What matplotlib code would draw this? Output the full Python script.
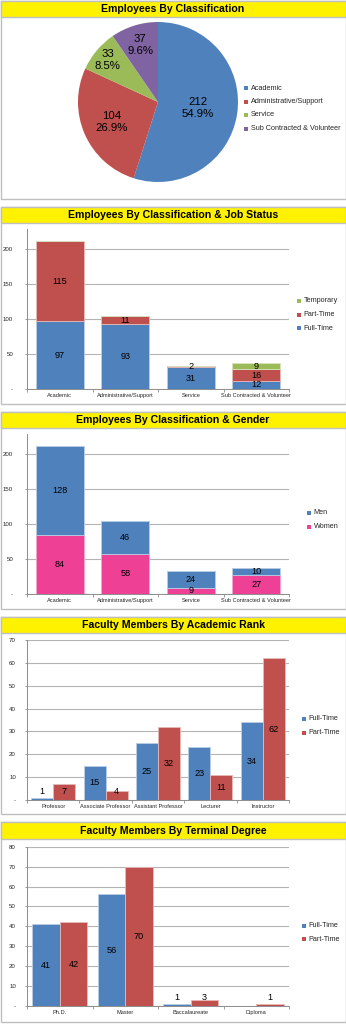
import matplotlib
matplotlib.use('Agg')
import matplotlib.pyplot as plt
import matplotlib.patches as patches
import numpy as np

plt.rcParams['font.family'] = ['Liberation Sans', 'DejaVu Sans']

# ---[DATA]---
class_names = ['Academic', 'Administrative/Support', 'Service', 'Sub Contracted & Volunteer']
class_counts = [212, 104, 33, 37]

job_full = [97, 93, 31, 12]
job_part = [115, 11, 2, 16]
job_temp = [0, 0, 0, 9]

gender_women = [84, 58, 9, 27]
gender_men = [128, 46, 24, 10]

rank_names = ['Professor', 'Associate Professor', 'Assistant Professor', 'Lecturer', 'Instructor']
rank_full = [1, 15, 25, 23, 34]
rank_part = [7, 4, 32, 11, 62]

degree_names = ['Ph.D.', 'Master', 'Baccalaureate', 'Diploma']
degree_full = [41, 56, 1, 0]
degree_part = [42, 70, 3, 1]
# ------------

BLUE = '#4f81bd'
RED = '#c0504d'
GREEN = '#9bbb59'
PURPLE = '#8064a2'
PINK = '#ee4196'
EDGE = {BLUE: '#b9cde5', RED: '#e6b9b8', GREEN: '#d7e4bd', PINK: '#f7a6cf'}
YELLOW = '#fff200'
GRID = '#b4b4b4'
AXIS = '#8c8c8c'

W, H = 346, 1024
fig = plt.figure(figsize=(W / 100, H / 100), dpi=100)


def px_axes(x0, y0, x1, y1):
    return fig.add_axes([x0 / W, 1 - y1 / H, (x1 - x0) / W, (y1 - y0) / H])


def panel(y_top, y_title, y_bot, title):
    fig.add_artist(patches.Rectangle((0.5 / W, 1 - y_bot / H), 345 / W, (y_bot - y_top) / H,
                                     transform=fig.transFigure, facecolor='white',
                                     edgecolor='#bfbfbf', linewidth=1.0, zorder=0))
    fig.add_artist(patches.Rectangle((0.5 / W, 1 - y_title / H), 345 / W, (y_title - y_top) / H,
                                     transform=fig.transFigure, facecolor=YELLOW,
                                     edgecolor='#bfbfbf', linewidth=1.0, zorder=0))
    fig.text(173 / W, 1 - (y_top + y_title) / 2 / H, title, ha='center', va='center',
             fontsize=7.6, fontweight='bold', color='black')


def legend(names, colors, x_mark, x_text, ys, size=5.2):
    for name, col, y in zip(names, colors, ys):
        fig.add_artist(patches.Rectangle(((x_mark - 2) / W, 1 - (y + 2) / H), 4 / W, 4 / H,
                                         transform=fig.transFigure, facecolor=col,
                                         edgecolor='none'))
        fig.text(x_text / W, 1 - y / H, name, ha='left', va='center', fontsize=size,
                 color='#262626')


def bar_axes(ax, labels, ymax, step, pad):
    n = len(labels)
    ax.set_xlim(0, n)
    ax.set_ylim(0, ymax)
    ax.set_xticks(np.arange(n) + 0.5)
    ax.set_xticklabels(labels, fontsize=4.1, color='#262626')
    ax.set_xticks(np.arange(n + 1), minor=True)
    ax.tick_params(axis='x', which='major', length=0, pad=3)
    ax.tick_params(axis='x', which='minor', length=2.2, width=0.6, color=AXIS, direction='out')
    ticks = np.arange(0, ymax + 0.1, step)
    ticks = ticks[ticks <= ymax]
    ax.set_yticks(ticks)
    ax.set_yticklabels(['-' if t == 0 else '%d' % t for t in ticks], fontsize=4.4,
                       color='#262626')
    ax.tick_params(axis='y', length=1.5, width=0.6, color=AXIS, pad=pad)
    ax.yaxis.grid(True, color=GRID, linewidth=0.8)
    ax.set_axisbelow(True)
    for s in ['top', 'right']:
        ax.spines[s].set_visible(False)
    for s in ['left', 'bottom']:
        ax.spines[s].set_color(AXIS)
        ax.spines[s].set_linewidth(0.7)
    ax.patch.set_alpha(0)


def stacked(ax, series, colors, width=0.73):
    x = np.arange(len(series[0])) + 0.5
    bottom = np.zeros(len(x))
    for vals, col in zip(series, colors):
        vals = np.array(vals, dtype=float)
        ax.bar(x, vals, width, bottom=bottom, color=col, edgecolor=EDGE[col], linewidth=0.6)
        for xi, b, v in zip(x, bottom, vals):
            if v > 0:
                ax.text(xi, b + v / 2, '%d' % v, ha='center', va='center', fontsize=6.6,
                        color='black')
        bottom += vals


def clustered(ax, series, colors, ymax, width=0.42):
    x = np.arange(len(series[0])) + 0.5
    for k, (vals, col) in enumerate(zip(series, colors)):
        xs = x + (k - 0.5) * width
        ax.bar(xs, vals, width, color=col, edgecolor=EDGE[col], linewidth=0.6)
        for xi, v in zip(xs, vals):
            if v > 0:
                ax.text(xi, max(v / 2, ymax * 0.052), '%d' % v, ha='center', va='center',
                        fontsize=6.6, color='black')


# ---[PANEL 1: pie]---
panel(1, 16.5, 199, 'Employees By Classification')
ax1 = px_axes(78, 22, 238, 182)
pie_colors = [BLUE, RED, GREEN, PURPLE]
wedges, _ = ax1.pie(class_counts, colors=pie_colors, startangle=90, counterclock=False,
                    radius=1)
ax1.set_xlim(-1, 1)
ax1.set_ylim(-1, 1)
ax1.set_aspect('equal')
ax1.axis('off')
label_r = [0.5, 0.63, 0.82, 0.75]
total = float(sum(class_counts))
for w, v, r in zip(wedges, class_counts, label_r):
    ang = np.deg2rad((w.theta1 + w.theta2) / 2)
    ax1.text(r * np.cos(ang), r * np.sin(ang), '%d\n%.1f%%' % (v, 100 * v / total),
             ha='center', va='center', fontsize=8.2, linespacing=1.25, color='black')
legend(class_names, pie_colors, 246, 251, [88, 101.5, 115, 128.5])

# ---[PANEL 2: job status]---
panel(207, 222.5, 404, 'Employees By Classification & Job Status')
ax2 = px_axes(27, 228.5, 289, 389)
bar_axes(ax2, class_names, 230, 50, 8.5)
stacked(ax2, [job_full, job_part, job_temp], [BLUE, RED, GREEN])
legend(['Temporary', 'Part-Time', 'Full-Time'], [GREEN, RED, BLUE], 299, 303.5,
       [301, 314.5, 328])

# ---[PANEL 3: gender]---
panel(412, 428, 609, 'Employees By Classification & Gender')
ax3 = px_axes(27, 433.5, 289, 594)
bar_axes(ax3, class_names, 230, 50, 8.5)
stacked(ax3, [gender_women, gender_men], [PINK, BLUE])
legend(['Men', 'Women'], [BLUE, PINK], 309, 313.5, [513, 526.5])

# ---[PANEL 4: academic rank]---
panel(617, 633, 814, 'Faculty Members By Academic Rank')
ax4 = px_axes(27, 640, 289, 800)
bar_axes(ax4, rank_names, 70, 10, 6.5)
clustered(ax4, [rank_full, rank_part], [BLUE, RED], 70)
legend(['Full-Time', 'Part-Time'], [BLUE, RED], 304, 308.5, [719, 733])

# ---[PANEL 5: terminal degree]---
panel(822, 839, 1022, 'Faculty Members By Terminal Degree')
ax5 = px_axes(27, 846.7, 289, 1006)
bar_axes(ax5, degree_names, 80, 10, 6.5)
clustered(ax5, [degree_full, degree_part], [BLUE, RED], 80)
legend(['Full-Time', 'Part-Time'], [BLUE, RED], 304, 308.5, [925.7, 939.3])

fig.savefig('out.png', dpi=100)
